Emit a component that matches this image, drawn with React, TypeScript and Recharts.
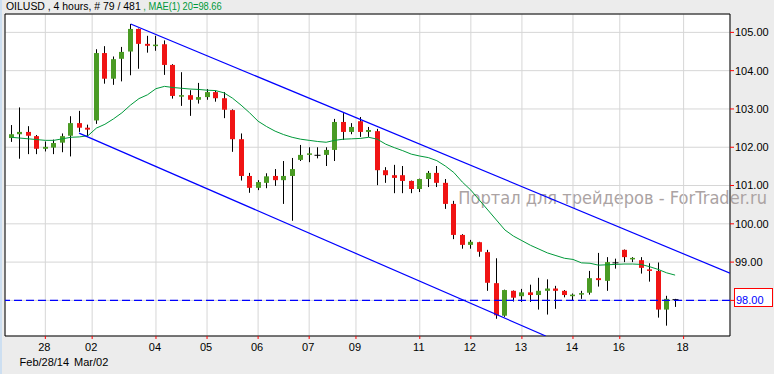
import { ComposedChart, Bar, Line, XAxis, YAxis, CartesianGrid, ReferenceLine, ReferenceArea } from 'recharts';

// OILUSD 4h candles, Feb 27 08:00 .. Mar 17 20:00 (79 bars)
const opens = [
  102.24, 102.34, 102.40, 102.29, 101.96, 101.99, 102.12, 102.30, 102.63, 102.51,
  102.70, 104.46, 103.79, 104.31, 104.50, 105.09, 104.70, 104.66, 104.69, 104.15,
  103.34, 103.36, 103.24, 103.31, 103.44, 103.28, 102.97, 102.21, 101.25, 100.94,
  101.07, 101.25, 101.14, 101.25, 101.67, 101.81, 101.79, 101.80, 101.93, 102.66,
  102.40, 102.68, 102.40, 102.42, 101.40, 101.27, 101.27, 101.12, 100.91, 101.17,
  101.33, 101.07, 100.52, 99.71, 99.45, 99.52, 99.26, 98.45, 97.60, 98.25,
  98.11, 98.21, 98.14, 98.25, 98.31, 98.25, 98.11, 98.15, 98.20, 98.58,
  98.51, 98.98, 99.32, 99.08, 99.05, 98.81, 98.77, 97.76, 98.02,
];
const highs = [
  102.58, 103.04, 102.55, 102.32, 102.15, 102.20, 102.36, 102.81, 102.95, 102.59,
  104.56, 104.64, 104.37, 104.62, 105.22, 105.10, 104.91, 104.91, 104.79, 104.17,
  103.96, 103.49, 103.68, 103.52, 103.48, 103.44, 102.99, 102.36, 101.33, 101.14,
  101.32, 101.43, 101.64, 101.72, 102.06, 102.00, 102.00, 102.00, 102.74, 102.89,
  102.63, 102.79, 102.53, 102.48, 101.48, 101.54, 101.51, 101.13, 101.18, 101.38,
  101.51, 101.17, 100.60, 99.73, 99.58, 99.53, 99.32, 99.10, 98.28, 98.26,
  98.30, 98.41, 98.59, 98.55, 98.38, 98.27, 98.18, 98.25, 98.77, 99.24,
  99.13, 99.09, 99.33, 99.13, 99.13, 98.97, 98.99, 98.12, 98.04,
];
const lows = [
  102.14, 101.70, 101.82, 101.82, 101.89, 101.82, 101.87, 101.76, 102.40, 102.28,
  102.61, 103.66, 103.63, 103.72, 103.88, 104.05, 104.47, 104.52, 103.89, 103.27,
  103.08, 102.82, 103.14, 103.24, 103.19, 102.76, 101.88, 101.13, 100.81, 100.88,
  100.93, 100.99, 100.52, 100.08, 101.64, 101.61, 101.71, 101.51, 101.64, 102.19,
  102.34, 102.27, 102.27, 101.01, 101.07, 100.80, 100.80, 100.80, 100.83, 100.96,
  100.96, 100.39, 99.60, 99.35, 99.35, 99.14, 98.25, 97.52, 97.57, 97.97,
  97.96, 97.96, 97.76, 97.63, 97.78, 98.08, 98.01, 98.04, 98.15, 98.36,
  98.25, 98.83, 99.00, 99.00, 98.70, 98.49, 97.55, 97.34, 97.83,
];
const closes = [
  102.34, 102.40, 102.30, 101.96, 102.01, 102.11, 102.29, 102.63, 102.51, 102.46,
  104.46, 103.79, 104.30, 104.49, 105.09, 104.70, 104.65, 104.68, 104.15, 103.34,
  103.36, 103.24, 103.31, 103.44, 103.28, 102.98, 102.21, 101.25, 100.94, 101.09,
  101.24, 101.14, 101.25, 101.43, 101.80, 101.84, 101.79, 101.93, 102.66, 102.40,
  102.53, 102.40, 102.45, 101.40, 101.27, 101.20, 101.12, 100.91, 101.17, 101.33,
  101.07, 100.52, 99.71, 99.45, 99.53, 99.27, 98.46, 97.61, 98.27, 98.07,
  98.21, 98.14, 98.25, 98.31, 98.25, 98.14, 98.15, 98.19, 98.58, 98.53,
  99.00, 98.98, 99.13, 99.11, 98.85, 98.77, 97.76, 98.04, 98.02,
];
// MAE(1) 20 as drawn on the chart
const maValues = [
  102.26, 102.24, 102.22, 102.20, 102.18, 102.18, 102.22, 102.26, 102.27, 102.30,
  102.50, 102.60, 102.74, 102.90, 103.10, 103.27, 103.37, 103.53, 103.59, 103.56,
  103.54, 103.52, 103.51, 103.49, 103.48, 103.42, 103.28, 103.10, 102.90, 102.68,
  102.54, 102.42, 102.33, 102.26, 102.21, 102.18, 102.15, 102.13, 102.18, 102.21,
  102.22, 102.23, 102.26, 102.21, 102.08, 101.99, 101.91, 101.82, 101.77, 101.73,
  101.65, 101.51, 101.34, 101.09, 100.88, 100.62, 100.36, 100.10, 99.84, 99.68,
  99.56, 99.44, 99.34, 99.24, 99.17, 99.10, 99.07, 98.98, 98.97, 98.92,
  98.93, 98.94, 98.95, 98.95, 98.94, 98.88, 98.81, 98.72, 98.66,
];

// trend channel (bar index, price)
const upperChannel = [{ i: 14.03, p: 105.22 }, { i: 84.45, p: 98.71 }];
const lowerChannel = [{ i: 7.96, p: 102.37 }, { i: 62.8, p: 97.07 }];

const xTickPos = [4, 9.5, 17, 23, 29, 35, 40.5, 48, 54, 60, 66, 71.5, 79];
const xTickLabels = ['28', '02', '04', '05', '06', '07', '09', '11', '12', '13', '14', '16', '18'];
const xSubLabels = ['Feb/28/14', 'Mar/02'];
const yTicks = [98, 99, 100, 101, 102, 103, 104, 105];
const lastPrice = 98;

const xDomain = [-0.74, 84.45];
const yDomain = [97.07, 105.48];

const GREEN = '#4a9b24';
const RED = '#f01414';
const FONT = 'Arial, "Liberation Sans", sans-serif';

const rows = opens.map((o, i) => ({
  i,
  open: o,
  high: highs[i],
  low: lows[i],
  close: closes[i],
  range: [lows[i], highs[i]],
  ma: maValues[i],
}));

function Candle(props: any) {
  const { x, y, width, height, payload } = props;
  const top = Math.min(y, y + height);
  const h = Math.abs(height);
  const { open, close, high, low } = payload;
  const toY = (v: number) => top + ((high - v) / (high - low)) * h;
  const cx = Math.floor(x + width / 2) + 0.5;
  const yo = toY(open);
  const yc = toY(close);
  const color = close > open ? GREEN : close < open ? RED : '#000';
  const bTop = Math.min(yo, yc);
  const bH = Math.max(Math.abs(yc - yo), 1.5);
  return (
    <g>
      <line x1={cx} x2={cx} y1={top} y2={top + h} stroke="#000" strokeWidth={1} />
      {close === open ? (
        <line x1={cx - 3} x2={cx + 3} y1={yo} y2={yo} stroke="#000" strokeWidth={1} />
      ) : (
        <rect x={cx - 2.5} y={bTop} width={5} height={bH} fill={color} />
      )}
    </g>
  );
}

function PriceTick(props: any) {
  const { x, y, payload } = props;
  const v = payload.value;
  if (v === lastPrice) {
    return (
      <g>
        <rect x={Math.round(x - 1.5) + 0.5} y={Math.round(y - 12.6) + 0.5} width={38} height={18}
          fill="#fff" stroke="#ff0000" strokeWidth={1} />
        <text x={x + 1} y={y} dy="0.36em" fill="#0000ff" fontSize={11} fontFamily={FONT}>
          {v.toFixed(2)}
        </text>
      </g>
    );
  }
  return (
    <text x={x} y={y} dy="0.36em" fill="#000" fontSize={11} fontFamily={FONT}>
      {v.toFixed(2)}
    </text>
  );
}

function DayTick(props: any) {
  const { x, y, index } = props;
  return (
    <g>
      <text x={x - 1} y={y} dy={10} textAnchor="middle" fill="#000" fontSize={11} fontFamily={FONT}>
        {xTickLabels[index]}
      </text>
      {xSubLabels[index] && (
        <text x={x - 1} y={y} dy={25} textAnchor="middle" fill="#000" fontSize={11} fontFamily={FONT}>
          {xSubLabels[index]}
        </text>
      )}
    </g>
  );
}

export default function App() {
  return (
    <div style={{ position: 'absolute', left: 0, top: 0, width: 774, height: 374, background: '#ececec', overflow: 'hidden' }}>
      {/* backdrop: plot fill, title, watermark */}
      <svg width={774} height={374} style={{ position: 'absolute', left: 0, top: 0 }}>
        <rect x={0} y={0} width={2} height={374} fill="#cddff1" />
        <rect x={5} y={14} width={725} height={322} fill="#fff" />
        <text x={6} y={10} fontSize={10} fontFamily={FONT} fill="#000" textLength={134.7} lengthAdjust="spacingAndGlyphs">
          OILUSD , 4 hours, # 79 / 481
        </text>
        <text x={143.3} y={10} fontSize={10} fontFamily={FONT} fill="#00993a" textLength={78.4} lengthAdjust="spacingAndGlyphs">
          , MAE(1) 20=98.66
        </text>
        <text x={458.3} y={204} fontSize={17} fontFamily='"DejaVu Sans", sans-serif' fill="#aba3a3"
          textLength={308.7} lengthAdjust="spacingAndGlyphs">
          Портал для трейдеров - ForTrader.ru
        </text>
      </svg>
      <div style={{ position: 'absolute', left: 0, top: 0 }}>
        <ComposedChart width={774} height={374} data={rows} margin={{ top: 14, right: 0, left: 5, bottom: 0 }}>
          <CartesianGrid stroke="#d6d6d6" strokeWidth={1} />
          <XAxis
            dataKey="i"
            type="number"
            domain={xDomain}
            allowDataOverflow
            ticks={xTickPos}
            interval={0}
            height={38}
            axisLine={false}
            tickLine={{ stroke: '#ff0000' }}
            tickSize={3}
            tickMargin={2}
            tick={<DayTick />}
          />
          <YAxis
            orientation="right"
            type="number"
            domain={yDomain}
            allowDataOverflow
            ticks={yTicks}
            interval={0}
            width={44}
            axisLine={false}
            tickLine={{ stroke: '#ff0000' }}
            tickSize={4}
            tickMargin={1}
            tick={<PriceTick />}
          />
          <Bar dataKey="range" barSize={5} shape={<Candle />} isAnimationActive={false} />
          <Line dataKey="ma" type="linear" stroke="#00993a" strokeWidth={1} dot={false} activeDot={false} isAnimationActive={false} />
          <Line data={upperChannel} dataKey="p" type="linear" stroke="#0000ff" strokeWidth={1.2} dot={false} activeDot={false} isAnimationActive={false} />
          <Line data={lowerChannel} dataKey="p" type="linear" stroke="#0000ff" strokeWidth={1.2} dot={false} activeDot={false} isAnimationActive={false} />
          <ReferenceLine y={lastPrice} stroke="#0000ff" strokeWidth={1.2} strokeDasharray="8 4" />
          <ReferenceArea x1={xDomain[0]} x2={xDomain[1]} y1={yDomain[0]} y2={yDomain[1]} fill="none" stroke="#000" strokeWidth={1} />
        </ComposedChart>
      </div>
    </div>
  );
}
